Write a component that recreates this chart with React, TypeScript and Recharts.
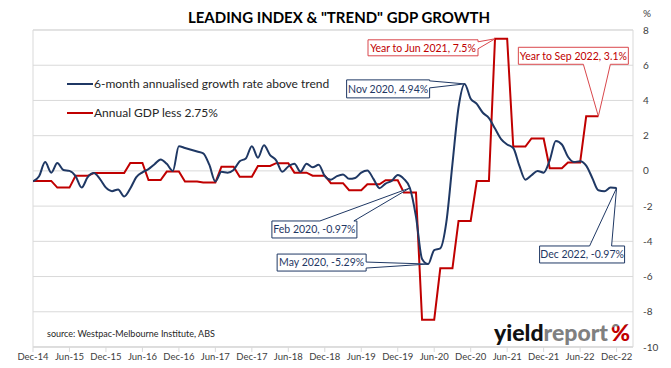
import React from 'react';
import {
  LineChart,
  Line,
  XAxis,
  YAxis,
  CartesianGrid,
  ReferenceArea,
  ReferenceDot,
  Legend,
} from 'recharts';

const FONT = "Lato, 'Open Sans', 'Noto Sans', sans-serif";

// x-axis tick labels (every 6 months from Dec-14)
const tickLabels = [
  'Dec-14', 'Jun-15', 'Dec-15', 'Jun-16', 'Dec-16', 'Jun-17', 'Dec-17', 'Jun-18', 'Dec-18',
  'Jun-19', 'Dec-19', 'Jun-20', 'Dec-20', 'Jun-21', 'Dec-21', 'Jun-22', 'Dec-22',
];
const tickMonths = [0, 6, 12, 18, 24, 30, 36, 42, 48, 54, 60, 66, 72, 78, 84, 90, 96];
const yTicks = [-10, -8, -6, -4, -2, 0, 2, 4, 6, 8];

// 6-month annualised growth rate above trend (monthly, Dec-14 .. Dec-22)
const blueValues = [
  -0.6, -0.3, 0.5, -0.1, 0.45, 0.05, 0.0, -0.3, -0.95, -0.35,
  -0.12, -0.45, -0.95, -1.15, -1.05, -1.45, -1.0, -0.35, -0.08, 0.1,
  0.38, 0.65, 0.4, 0.0, 1.4, 1.3, 1.2, 1.1, 1.0, 0.35,
  -0.6, -0.05, -0.1, 0.05, 0.55, 0.7, 1.4, 0.75, 1.45, 0.9,
  0.6, -0.05, 0.25, 0.4, -0.05, 0.4, 0.2, 0.35, -0.3, -0.5,
  -0.3, -0.2, -0.45, -0.4, -0.1, 0.02, -0.45, -0.98, -0.72, -0.57,
  -0.23, -0.45, -0.97, -2.6, -5.0, -5.29, -4.5, -4.4, -2.9, 0.4,
  3.6, 4.94, 4.1, 3.8, 3.3, 3.0, 2.4, 1.8, 1.5, 1.3,
  0.3, -0.5, -0.25, 0.0, -0.1, 0.6, 1.7, 1.5, 0.8, 0.5,
  0.55, 0.3, -0.4, -1.1, -1.15, -0.95, -0.97,
];

// Annual GDP less 2.75% (quarterly figure shown for each month, Dec-14 .. Sep-22)
const redValues = [
  -0.57, -0.57, -0.57, -0.57, -0.95, -0.95, -0.95, -0.28, -0.28, -0.28,
  -0.12, -0.12, -0.12, -0.12, -0.12, -0.12, 0.45, 0.45, 0.45, -0.52,
  -0.52, -0.52, -0.04, -0.04, -0.04, -0.6, -0.6, -0.6, -0.66, -0.66,
  -0.66, 0.24, 0.24, 0.24, -0.33, -0.33, -0.33, 0.28, 0.28, 0.28,
  0.44, 0.44, 0.44, -0.1, -0.1, -0.1, -0.27, -0.27, -0.27, -0.7,
  -0.7, -0.7, -1.1, -1.1, -1.1, -0.76, -0.76, -0.76, -0.53, -0.53,
  -0.53, -1.23, -1.23, -1.23, -8.45, -8.45, -8.45, -5.53, -5.53, -5.53,
  -2.84, -2.84, -2.84, -0.58, -0.58, -0.58, 7.5, 7.5, 7.5, 1.38,
  1.38, 1.38, 1.84, 1.84, 1.84, 0.15, 0.15, 0.15, 0.47, 0.47,
  0.47, 3.1, 3.1, 3.1,
];

const months = blueValues.map((_, i) => i);

const BLUE = '#1f3864';
const RED = '#c00000';

const legendItems = [
  { name: '6-month annualised growth rate above trend', color: BLUE },
  { name: 'Annual GDP less 2.75%', color: RED },
];

type Side = 'right' | 'top' | 'bottom';
interface Callout {
  m: number;
  v: number;
  text: string;
  color: string;
  border: string;
  dx: number;
  dy: number;
  w: number;
  h: number;
  side: Side;
  b1: number;
  b2: number;
}

const callouts: Callout[] = [
  { m: 76, v: redValues[76], text: 'Year to Jun 2021, 7.5%', color: RED, border: '#d9474c', dx: -127, dy: 1, w: 110, h: 16, side: 'right', b1: 2, b2: 9 },
  { m: 93, v: redValues[93], text: 'Year to Sep 2022, 3.1%', color: RED, border: '#d9474c', dx: -80, dy: -69, w: 110, h: 17, side: 'bottom', b1: 65, b2: 92 },
  { m: 71, v: blueValues[71], text: 'Nov 2020, 4.94%', color: BLUE, border: BLUE, dx: -118, dy: -4, w: 83, h: 18, side: 'right', b1: 1, b2: 8 },
  { m: 62, v: blueValues[62], text: 'Feb 2020, -0.97%', color: BLUE, border: BLUE, dx: -138, dy: 33, w: 85, h: 17, side: 'top', b1: 48, b2: 82 },
  { m: 65, v: blueValues[65], text: 'May 2020, -5.29%', color: BLUE, border: BLUE, dx: -151, dy: -10, w: 89, h: 17, side: 'right', b1: 8, b2: 14 },
  { m: 96, v: blueValues[96], text: 'Dec 2022, -0.97%', color: BLUE, border: BLUE, dx: -77, dy: 58, w: 85, h: 17, side: 'top', b1: 50, b2: 72 },
];

function calloutPath(cx: number, cy: number, s: Callout) {
  const x0 = cx + s.dx;
  const y0 = cy + s.dy;
  const x1 = x0 + s.w;
  const y1 = y0 + s.h;
  if (s.side === 'right') {
    return `M${x0},${y0} L${x1},${y0} L${x1},${y0 + s.b1} L${cx},${cy} L${x1},${y0 + s.b2} L${x1},${y1} L${x0},${y1} Z`;
  }
  if (s.side === 'top') {
    return `M${x0},${y0} L${x0 + s.b1},${y0} L${cx},${cy} L${x0 + s.b2},${y0} L${x1},${y0} L${x1},${y1} L${x0},${y1} Z`;
  }
  return `M${x0},${y0} L${x1},${y0} L${x1},${y1} L${x0 + s.b2},${y1} L${cx},${cy} L${x0 + s.b1},${y1} L${x0},${y1} Z`;
}

function CalloutShape(props: any) {
  const { cx, cy, spec } = props;
  if (cx == null || cy == null) return null;
  const s: Callout = spec;
  return (
    <g>
      <path d={calloutPath(cx, cy, s)} fill="#fff" stroke={s.border} strokeWidth={1} />
      <text
        x={cx + s.dx + s.w / 2}
        y={cy + s.dy + s.h / 2}
        dy="0.36em"
        textAnchor="middle"
        fontFamily={FONT}
        fontSize={10.5}
        fill={s.color}
      >
        {s.text}
      </text>
    </g>
  );
}

const renderLegend = () => (
  <div style={{ fontFamily: FONT, fontSize: 12, color: '#262626' }}>
    {legendItems.map((it) => (
      <div key={it.name} style={{ display: 'flex', alignItems: 'center', height: 29 }}>
        <svg width={26} height={4} style={{ display: 'block' }}>
          <line x1={0} y1={2} x2={26} y2={2} stroke={it.color} strokeWidth={2} />
        </svg>
        <span style={{ marginLeft: 1, whiteSpace: 'nowrap' }}>{it.name}</span>
      </div>
    ))}
  </div>
);

export default function App() {
  const data = months.map((m, i) => ({
    m,
    blue: blueValues[i],
    red: i < redValues.length ? redValues[i] : null,
  }));

  return (
    <div style={{ position: 'absolute', left: 0, top: 0, width: 671, height: 368, background: '#fff' }}>
      <LineChart width={671} height={368} data={data} margin={{ top: 30, right: 0, bottom: 0, left: 33 }}>
        <CartesianGrid vertical={false} stroke="#d9d9d9" />
        <ReferenceArea x1={0} x2={98.7} y1={-10} y2={8} fill="none" stroke="#d9d9d9" ifOverflow="visible" />
        <XAxis
          dataKey="m"
          type="number"
          domain={[0, 98.7]}
          ticks={tickMonths}
          interval={0}
          allowDataOverflow
          tickFormatter={(v: number) => tickLabels[tickMonths.indexOf(v)] ?? ''}
          height={21}
          tickSize={5}
          tickMargin={1}
          stroke="#d9d9d9"
          tick={{ fill: '#404040', fontSize: 9.5, fontFamily: FONT }}
        />
        <YAxis
          orientation="right"
          domain={[-10, 8]}
          ticks={yTicks}
          interval={0}
          width={38}
          axisLine={false}
          tickLine={false}
          tickSize={0}
          tickMargin={10}
          tick={{ fill: '#404040', fontSize: 10, fontFamily: FONT, textAnchor: 'start' }}
        />
        <Legend
          layout="vertical"
          align="center"
          verticalAlign="middle"
          content={renderLegend}
          wrapperStyle={{ left: 67, top: 69, width: 300, height: 58 }}
        />
        <Line
          dataKey="red"
          type="linear"
          stroke={RED}
          strokeWidth={2}
          dot={false}
          activeDot={false}
          isAnimationActive={false}
          connectNulls={false}
        />
        <Line
          dataKey="blue"
          type="monotone"
          stroke={BLUE}
          strokeWidth={2}
          dot={false}
          activeDot={false}
          isAnimationActive={false}
        />
        {callouts.map((c) => (
          <ReferenceDot
            key={c.text}
            x={c.m}
            y={c.v}
            r={0}
            ifOverflow="visible"
            shape={(p: any) => <CalloutShape {...p} spec={c} />}
          />
        ))}
      </LineChart>
      <svg
        width={671}
        height={368}
        style={{ position: 'absolute', left: 0, top: 0, pointerEvents: 'none' }}
      >
        <defs>
          <linearGradient id="pctGrad" x1="0" y1="0" x2="1" y2="1">
            <stop offset="0" stopColor="#2e8b3a" />
            <stop offset="0.38" stopColor="#2e8b3a" />
            <stop offset="0.39" stopColor="#7f7f7f" />
            <stop offset="0.6" stopColor="#7f7f7f" />
            <stop offset="0.61" stopColor="#c00000" />
            <stop offset="1" stopColor="#c00000" />
          </linearGradient>
        </defs>
        <text x={339} y={23} textAnchor="middle" fontFamily={FONT} fontWeight={700} fontSize={15} fill="#000">
          LEADING INDEX &amp; "TREND" GDP GROWTH
        </text>
        <text x={643} y={17} fontFamily={FONT} fontSize={10} fill="#404040">%</text>
        <text x={47} y={337} fontFamily={FONT} fontSize={9} fill="#262626">
          source: Westpac-Melbourne Institute, ABS
        </text>
        <text x={494} y={341} fontFamily={FONT} fontWeight={900} fontSize={23}>
          <tspan fill="#111">yield</tspan>
          <tspan fill="#808080">report</tspan>
          <tspan dx={3} fill="url(#pctGrad)">%</tspan>
        </text>
      </svg>
    </div>
  );
}
